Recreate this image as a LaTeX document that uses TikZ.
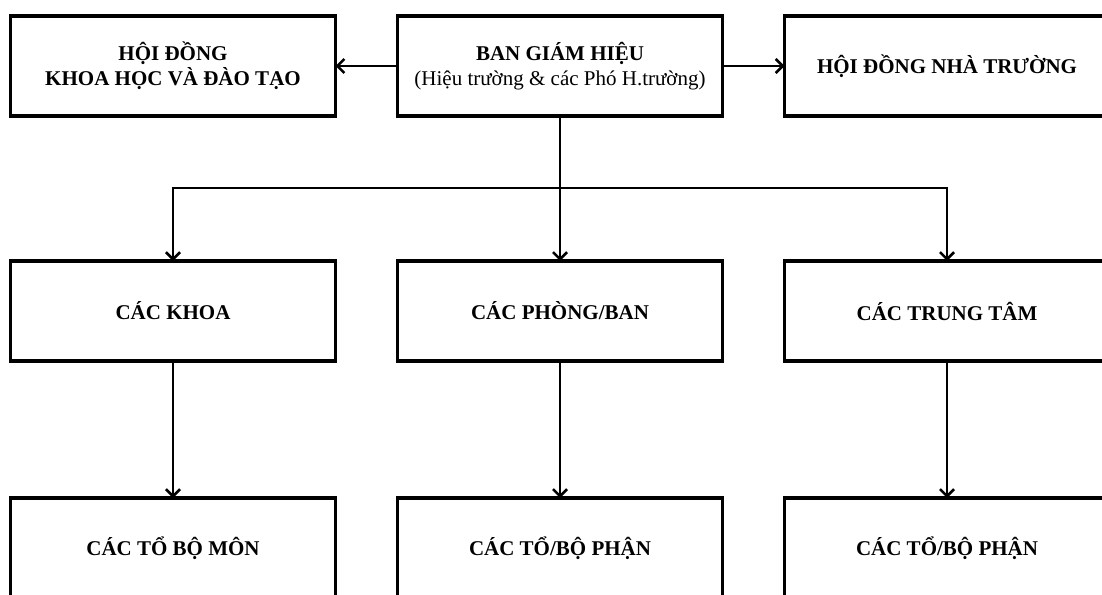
\documentclass[tikz,border=0pt]{standalone}
\usepackage{fontspec}
\setmainfont{Liberation Serif}
\usetikzlibrary{positioning, arrows.meta}

\begin{document}
\begin{tikzpicture}[->,>={Straight Barb[length=7pt,width=14pt]},line width=2.6pt,
    box/.style={draw, line width=3.6pt, minimum width=325pt, minimum height=100pt,
      align=center, inner sep=0pt, outer sep=0pt, font=\fontsize{21}{25}\selectfont\bfseries}]
      \useasboundingbox (0,0) rectangle (1102pt,-594pt);
      \clip (0,0) rectangle (1102pt,-594pt);

      \node[box] (bgh) at (560pt,-66pt) {BAN GIÁM HIỆU\\{\mdseries (Hiệu trường \& các Phó H.trường)}};
      \node[box] (hdkh) [left=62pt of bgh] {HỘI ĐỒNG\\KHOA HỌC VÀ ĐÀO TẠO};
      \node[box] (hdnt) [right=62pt of bgh] {HỘI ĐỒNG NHÀ TRƯỜNG};
      \node[box] (phong) [below=145pt of bgh] {CÁC PHÒNG/BAN};
      \node[box] (khoa) [left=62pt of phong] {CÁC KHOA};
      \node[box] (trungtam) [right=62pt of phong] {CÁC TRUNG TÂM};
      \node[box] (bomon) [below=137pt of khoa] {CÁC TỔ BỘ MÔN};
      \node[box] (bophan) [below=137pt of phong] {CÁC TỔ/BỘ PHẬN};
      \node[box] (ttbophan) [below=137pt of trungtam] {CÁC TỔ/BỘ PHẬN};
      \coordinate[below=72pt of bgh.south] (bus);

      \path (bgh) edge (hdkh)
            (bgh) edge (hdnt)
            (bgh) edge (phong)
            (khoa) edge (bomon)
            (phong) edge (bophan)
            (trungtam) edge (ttbophan)
            ;
      \draw (bus) -| (khoa);
      \draw (bus) -| (trungtam);
    \end{tikzpicture}
\end{document}
